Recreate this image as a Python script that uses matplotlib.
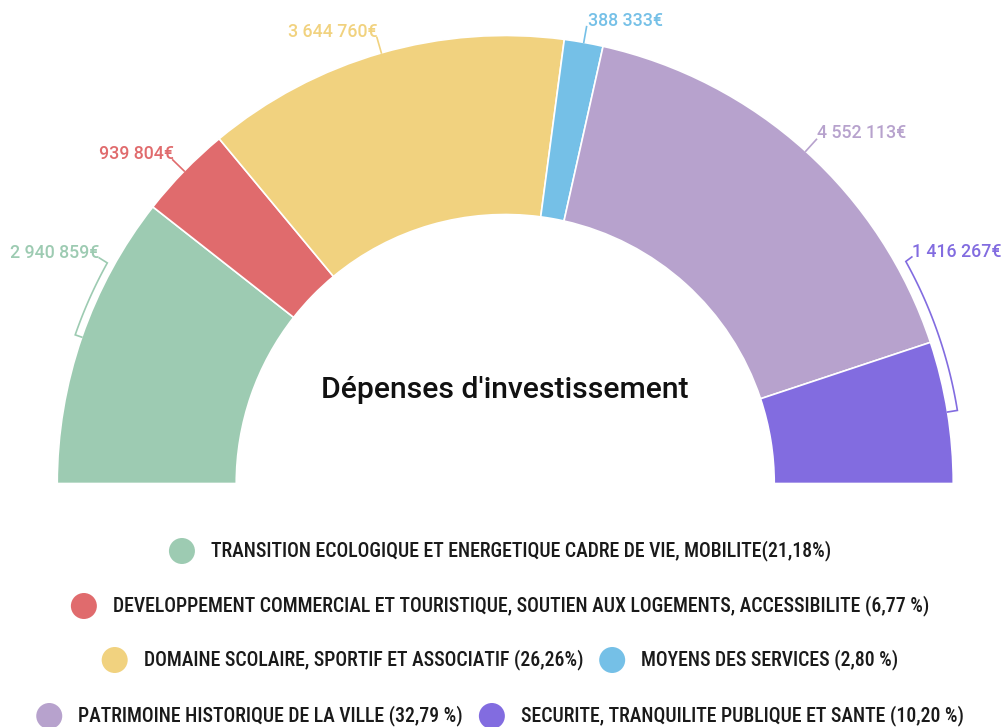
import numpy as np
import matplotlib.pyplot as plt
from matplotlib import font_manager
from matplotlib.patches import Circle

# data
categories = [
    "TRANSITION ECOLOGIQUE ET ENERGETIQUE CADRE DE VIE, MOBILITE(21,18%)",
    "DEVELOPPEMENT COMMERCIAL ET TOURISTIQUE, SOUTIEN AUX LOGEMENTS, ACCESSIBILITE (6,77 %)",
    "DOMAINE SCOLAIRE, SPORTIF ET ASSOCIATIF (26,26%)",
    "MOYENS DES SERVICES (2,80 %)",
    "PATRIMOINE HISTORIQUE DE LA VILLE (32,79 %)",
    "SECURITE, TRANQUILITE PUBLIQUE ET SANTE (10,20 %)",
]
values = [2940859, 939804, 3644760, 388333, 4552113, 1416267]
colors = ["#9DCBB2", "#E06B6D", "#F1D27F", "#75C0E7", "#B7A2CD", "#826CE0"]
title = "Dépenses d'investissement"

installed = {f.name for f in font_manager.fontManager.ttflist}
legend_font = "Roboto Condensed" if "Roboto Condensed" in installed else "Roboto"
plt.rcParams['font.family'] = ['Roboto', 'DejaVu Sans']

W_PX, H_PX = 1003, 727
fig = plt.figure(figsize=(W_PX / 100, H_PX / 100), dpi=100)
ax = fig.add_axes([0, 0, 1, 1])

cx, cy = 505.25, H_PX - 483.5
R, WIDTH = 448, 179

wedges, _ = ax.pie(values + [sum(values)], radius=R, center=(cx, cy),
                   startangle=180, counterclock=False,
                   colors=colors + ["none"],
                   wedgeprops=dict(width=WIDTH, edgecolor="white", linewidth=1.2))
wedges[-1].set_visible(False)
ax.set_xlim(0, W_PX)
ax.set_ylim(0, H_PX)
ax.set_aspect("equal")
ax.axis("off")


def polar(r, ang):
    a = np.radians(ang)
    return cx + r * np.cos(a), cy + r * np.sin(a)


# value labels
curved = {0: (455, 151, -8, 10), 5: (458, 29, 6, 9)}
for i, (w, v) in enumerate(zip(wedges[:-1], values)):
    mid = (w.theta1 + w.theta2) / 2
    txt = f"{v:,}".replace(",", " ") + "€"
    col = colors[i]
    if i in curved:
        rr, end_ang, dx, dy = curved[i]
        x0, y0 = polar(R, mid)
        angs = np.linspace(mid, end_ang, 40)
        xs, ys = polar(rr, angs)
        ex, ey = xs[-1], ys[-1]
        tx, ty = ex + dx, ey + dy
        ax.plot([x0] + list(xs) + [tx], [y0] + list(ys) + [ey + dy * 0.5],
                color=col, lw=1.2, solid_joinstyle="miter")
        ax.text(tx, ty, txt, ha="right" if dx < 0 else "left", va="center",
                color=col, fontsize=12.8, fontweight="medium")
    else:
        x0, y0 = polar(R, mid)
        x1, y1 = polar(R + 16, mid)
        ax.plot([x0, x1], [y0, y1], color=col, lw=1.2)
        left = np.cos(np.radians(mid)) < 0
        ax.text(x1 + 1, y1 + 6, txt, ha="right" if left else "left", va="center",
                color=col, fontsize=12.8, fontweight="medium")

# title
ax.text(cx, H_PX - 390, title, ha="center", va="center", fontsize=21.7,
        fontweight="medium", color="#111111")

# legend
rows = [[0], [1], [2, 3], [4, 5]]
row_y = [551, 606, 660, 716]
renderer = fig.canvas.get_renderer()
mr = 13
for row, yy in zip(rows, row_y):
    y = H_PX - yy
    texts = []
    widths = []
    for i in row:
        t = ax.text(0, y, categories[i], ha="left", va="center", fontsize=14.2,
                    fontweight="medium",
                    family=[legend_font, "DejaVu Sans"], color="#1a1a1a")
        texts.append(t)
        widths.append(t.get_window_extent(renderer=renderer).width)
    total = sum(2 * mr + 16 + w for w in widths) + 16 * (len(row) - 1)
    x = 500 - total / 2
    for i, t, w in zip(row, texts, widths):
        ax.add_patch(Circle((x + mr, y), mr, color=colors[i], lw=0))
        t.set_x(x + 2 * mr + 16)
        x += 2 * mr + 16 + w + 16

fig.savefig("out.png", dpi=100)
